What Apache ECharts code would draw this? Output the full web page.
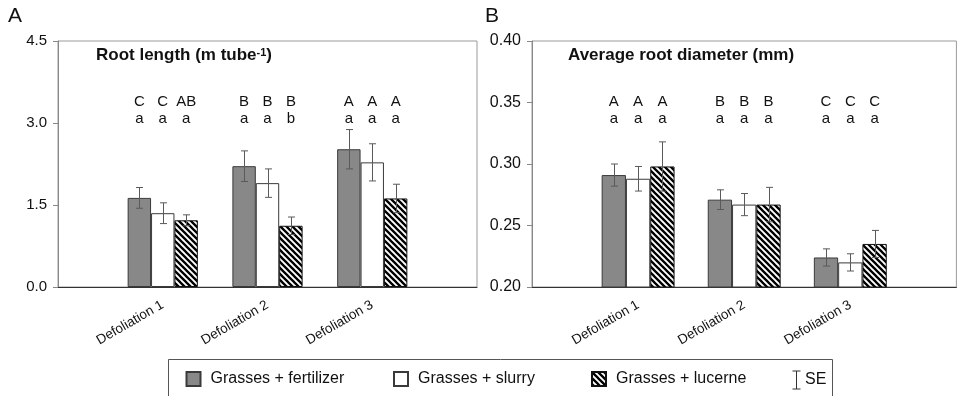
<!DOCTYPE html>
<html>
<head>
<meta charset="utf-8">
<script src="https://cdn.jsdelivr.net/npm/echarts@6/dist/echarts.min.js"></script>
<style>
  html, body { margin: 0; padding: 0; background: #fff; }
  #chart { width: 959px; height: 396px; }
</style>
</head>
<body>
<div id="chart"></div>
<script>
// ---- data ----
const categories = ['Defoliation 1', 'Defoliation 2', 'Defoliation 3'];
const seriesNames = ['Grasses + fertilizer', 'Grasses + slurry', 'Grasses + lucerne'];

// Root length (m tube-1): means and standard errors
const lengthFertilizer = [1.63, 2.21, 2.52];
const lengthSlurry = [1.35, 1.90, 2.28];
const lengthLucerne = [1.22, 1.12, 1.62];
const lengthFertilizerSE = [0.19, 0.28, 0.36];
const lengthSlurrySE = [0.19, 0.26, 0.34];
const lengthLucerneSE = [0.10, 0.16, 0.26];
const lengthLettersUpper = [['C', 'B', 'A'], ['C', 'B', 'A'], ['AB', 'B', 'A']];
const lengthLettersLower = [['a', 'a', 'a'], ['a', 'a', 'a'], ['a', 'b', 'a']];
const lengthTicks = { min: 0, max: 4.5, interval: 1.5, digits: 1 };

// Average root diameter (mm): means and standard errors
const diamFertilizer = [0.291, 0.271, 0.224];
const diamSlurry = [0.288, 0.267, 0.220];
const diamLucerne = [0.298, 0.267, 0.235];
const diamFertilizerSE = [0.009, 0.008, 0.007];
const diamSlurrySE = [0.010, 0.009, 0.007];
const diamLucerneSE = [0.020, 0.014, 0.011];
const diamLettersUpper = [['A', 'B', 'C'], ['A', 'B', 'C'], ['A', 'B', 'C']];
const diamLettersLower = [['a', 'a', 'a'], ['a', 'a', 'a'], ['a', 'a', 'a']];
const diamTicks = { min: 0.20, max: 0.40, interval: 0.05, digits: 2 };

// ---- styling ----
const FONT = '"Liberation Sans", Arial, sans-serif';

function hatchPattern() {
  const c = document.createElement('canvas');
  c.width = 6; c.height = 6;
  const g = c.getContext('2d');
  g.fillStyle = '#fff';
  g.fillRect(0, 0, 6, 6);
  g.strokeStyle = '#000';
  g.lineWidth = 2.3;
  g.beginPath();
  g.moveTo(-1, -1); g.lineTo(7, 7);
  g.moveTo(-1, 5); g.lineTo(1, 7);
  g.moveTo(5, -1); g.lineTo(7, 1);
  g.stroke();
  return c;
}

const barFills = ['#888888', '#ffffff', { image: hatchPattern(), repeat: 'repeat' }];
const barBorders = ['#3a3a3a', '#3a3a3a', '#111'];

const panels = [
  {
    values: [lengthFertilizer, lengthSlurry, lengthLucerne],
    errors: [lengthFertilizerSE, lengthSlurrySE, lengthLucerneSE],
    upper: lengthLettersUpper, lower: lengthLettersLower,
    ticks: lengthTicks,
    grid: { left: 58, top: 41, width: 419, height: 246 },
    barWidth: 23.4, letterLevel: 3.23, tickFont: 15
  },
  {
    values: [diamFertilizer, diamSlurry, diamLucerne],
    errors: [diamFertilizerSE, diamSlurrySE, diamLucerneSE],
    upper: diamLettersUpper, lower: diamLettersLower,
    ticks: diamTicks,
    grid: { left: 532, top: 41, width: 432, height: 246 },
    barWidth: 24.3, letterLevel: 0.344, tickFont: 16
  }
];

const grids = [], xAxes = [], yAxes = [], series = [];

panels.forEach((p, pi) => {
  grids.push(Object.assign({ show: true, borderColor: '#9a9a9a', borderWidth: 1 }, p.grid));
  xAxes.push({
    type: 'category', gridIndex: pi, boundaryGap: false,
    data: [''].concat(categories, ['']),
    axisLine: { lineStyle: { color: '#333', width: 1 } },
    axisTick: { show: false },
    axisLabel: { interval: 0, rotate: 30, margin: 17, fontSize: 13.5, fontFamily: FONT, color: '#111' }
  });
  yAxes.push({
    type: 'value', gridIndex: pi,
    min: p.ticks.min, max: p.ticks.max, interval: p.ticks.interval,
    splitLine: { show: false },
    axisLine: { show: true, lineStyle: { color: '#888' } },
    axisTick: { show: true, length: 5, lineStyle: { color: '#888' } },
    axisLabel: {
      margin: 11, fontSize: p.tickFont, fontFamily: FONT, color: '#111',
      formatter: v => v.toFixed(p.ticks.digits)
    }
  });

  p.values.forEach((vals, s) => {
    series.push({
      type: 'bar', name: seriesNames[s], xAxisIndex: pi, yAxisIndex: pi,
      data: [null].concat(vals, [null]),
      barWidth: p.barWidth, barGap: '0%',
      itemStyle: { color: barFills[s], borderColor: barBorders[s], borderWidth: 1 },
      emphasis: { disabled: true }
    });

    const offset = (s - 1) * p.barWidth;
    const se = p.errors[s];

    // standard error whiskers
    series.push({
      type: 'custom', xAxisIndex: pi, yAxisIndex: pi, z: 5, silent: true,
      data: vals.map((v, i) => [i + 1, v, se[i]]),
      renderItem: (params, api) => {
        const x = api.value(0), v = api.value(1), e = api.value(2);
        const top = api.coord([x, v + e]);
        const bot = api.coord([x, v - e]);
        const cx = Math.round(top[0] + offset) + 0.5;
        const st = { stroke: '#5a5a5a', lineWidth: 1 };
        return {
          type: 'group',
          children: [
            { type: 'line', shape: { x1: cx, y1: top[1], x2: cx, y2: bot[1] }, style: st },
            { type: 'line', shape: { x1: cx - 3.5, y1: top[1], x2: cx + 3.5, y2: top[1] }, style: st },
            { type: 'line', shape: { x1: cx - 3.5, y1: bot[1], x2: cx + 3.5, y2: bot[1] }, style: st }
          ]
        };
      }
    });

    // significance letters above each bar
    series.push({
      type: 'custom', xAxisIndex: pi, yAxisIndex: pi, z: 6, silent: true,
      data: vals.map((v, i) => [i + 1, p.letterLevel, i]),
      renderItem: (params, api) => {
        const c = api.coord([api.value(0), api.value(1)]);
        const i = api.value(2);
        return {
          type: 'text', x: c[0] + offset, y: c[1],
          style: {
            text: p.upper[s][i] + '\n' + p.lower[s][i],
            fontSize: 15, fontFamily: FONT, fill: '#111', lineHeight: 17,
            align: 'center', verticalAlign: 'middle'
          }
        };
      }
    });
  });
});

const legendLefts = [185.5, 393, 591];

const option = {
  animation: false,
  backgroundColor: '#fff',
  title: [
    { text: 'A', left: 8, top: 6, padding: 0, textStyle: { fontSize: 21, fontWeight: 'normal', fontFamily: FONT, color: '#111' } },
    { text: 'B', left: 485, top: 6, padding: 0, textStyle: { fontSize: 21, fontWeight: 'normal', fontFamily: FONT, color: '#111' } },
    {
      text: '{b|Root length (m tube}{s|-1}{b|)}', left: 96, top: 47, padding: 0,
      textStyle: {
        rich: {
          b: { fontSize: 17, fontWeight: 'bold', fontFamily: FONT, color: '#111' },
          s: { fontSize: 11, fontWeight: 'bold', fontFamily: FONT, color: '#111', verticalAlign: 'top' }
        }
      }
    },
    {
      text: 'Average root diameter (mm)', left: 568, top: 47, padding: 0,
      textStyle: { fontSize: 17, fontWeight: 'bold', fontFamily: FONT, color: '#111' }
    }
  ],
  legend: seriesNames.map((n, i) => ({
    data: [n], left: legendLefts[i], top: 371, padding: 0,
    icon: 'rect', itemWidth: 14, itemHeight: 14, selectedMode: false,
    textStyle: { fontSize: 16, fontFamily: FONT, color: '#111', padding: [0, 0, 0, 5] }
  })),
  grid: grids,
  xAxis: xAxes,
  yAxis: yAxes,
  series: series,
  graphic: [
    { type: 'rect', shape: { x: 168.5, y: 359.5, width: 664, height: 42 }, style: { fill: 'none', stroke: '#555', lineWidth: 1 }, silent: true },
    { type: 'line', shape: { x1: 796.5, y1: 371, x2: 796.5, y2: 389 }, style: { stroke: '#333', lineWidth: 1 } },
    { type: 'line', shape: { x1: 792.5, y1: 371, x2: 800.5, y2: 371 }, style: { stroke: '#333', lineWidth: 1 } },
    { type: 'line', shape: { x1: 792.5, y1: 389, x2: 800.5, y2: 389 }, style: { stroke: '#333', lineWidth: 1 } },
    { type: 'text', x: 805, y: 380, style: { text: 'SE', fontSize: 16, fontFamily: FONT, fill: '#111', verticalAlign: 'middle' } }
  ]
};

const chart = echarts.init(document.getElementById('chart'), null, { renderer: 'canvas' });
chart.setOption(option);
</script>
</body>
</html>
